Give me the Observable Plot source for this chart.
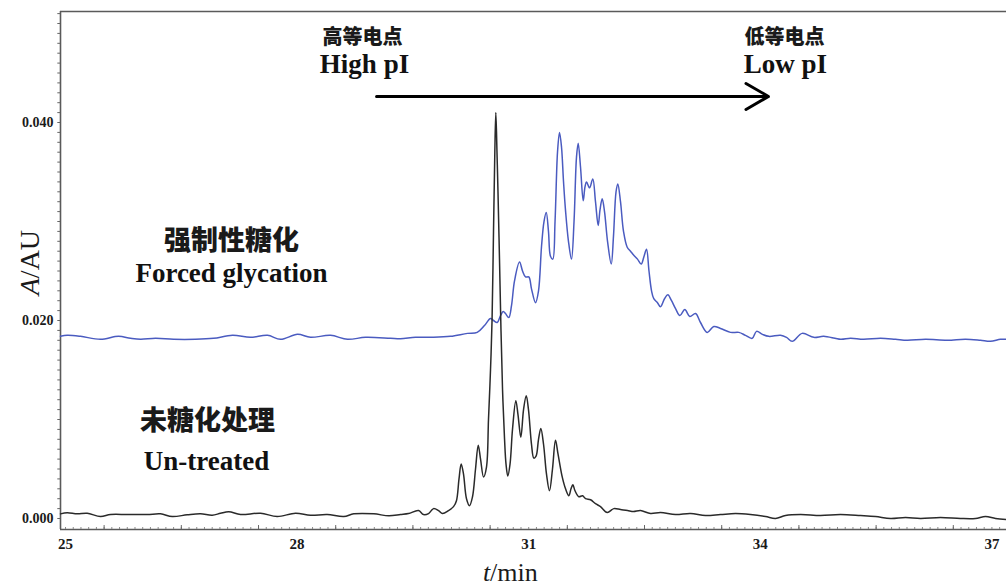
<!DOCTYPE html>
<html><head><meta charset="utf-8">
<script src="https://cdn.jsdelivr.net/npm/d3@7"></script>
<script src="https://cdn.jsdelivr.net/npm/@observablehq/plot@0.6"></script>
<style>html,body{margin:0;padding:0;background:#fff}</style>
</head><body><div id="chart"></div>
<script>
// ---- data (t in min, A in AU) ----
const timeUntreated = [
 24.935,25.022,25.152,25.281,25.453,25.583,25.799,26.058,26.231,26.382,
 26.576,26.749,26.900,27.008,27.115,27.267,27.526,27.742,27.979,28.173,
 28.390,28.605,28.734,28.993,29.188,29.339,29.443,29.573,29.637,29.702,
 29.767,29.832,29.883,29.961,30.026,30.064,30.097,30.125,30.155,30.194,
 30.233,30.272,30.311,30.346,30.376,30.415,30.453,30.479,30.505,30.525,
 30.544,30.561,30.574,30.589,30.602,30.622,30.641,30.661,30.687,30.706,
 30.729,30.758,30.790,30.833,30.861,30.898,30.933,30.968,30.997,31.036,
 31.066,31.095,31.127,31.157,31.192,31.230,31.269,31.308,31.347,31.380,
 31.434,31.477,31.520,31.548,31.572,31.600,31.649,31.697,31.736,31.801,
 31.865,31.930,32.017,32.102,32.189,32.280,32.358,32.448,32.578,32.707,
 32.902,33.096,33.290,33.484,33.679,33.873,34.067,34.197,34.326,34.521,
 34.780,35.039,35.298,35.492,35.687,35.881,36.075,36.334,36.593,36.787,
 36.917,37.047,37.189
];
const absUntreated = [
 0.00047,0.00058,0.00047,0.00053,0.00020,0.00040,0.00040,0.00040,0.00047,0.00020,
 0.00037,0.00047,0.00033,0.00053,0.00068,0.00040,0.00053,0.00020,0.00053,0.00033,
 0.00040,0.00020,0.00047,0.00047,0.00027,0.00040,0.00050,0.00080,0.00040,0.00050,
 0.00100,0.00080,0.00050,0.00080,0.00120,0.00180,0.00400,0.00550,0.00450,0.00200,
 0.00130,0.00220,0.00500,0.00740,0.00600,0.00420,0.00520,0.01000,0.01500,0.02000,
 0.02900,0.03700,0.04100,0.03700,0.03300,0.02600,0.01900,0.01300,0.00800,0.00550,
 0.00430,0.00550,0.00900,0.01190,0.01050,0.00820,0.01100,0.01240,0.01100,0.00750,
 0.00610,0.00630,0.00800,0.00910,0.00750,0.00450,0.00280,0.00500,0.00790,0.00650,
 0.00420,0.00300,0.00230,0.00300,0.00340,0.00280,0.00220,0.00230,0.00200,0.00190,
 0.00150,0.00120,0.00060,0.00100,0.00090,0.00080,0.00070,0.00080,0.00050,0.00060,
 0.00040,0.00050,0.00030,0.00040,0.00050,0.00040,0.00020,0.00000,0.00030,0.00040,
 0.00030,0.00040,0.00030,0.00020,0.00000,0.00010,0.00000,0.00010,0.00000,0.00000,
 0.00020,0.00000,-0.00010
];
const timeForced = [
 24.935,25.022,25.194,25.453,25.687,25.842,25.972,26.166,26.399,26.684,
 26.917,27.163,27.396,27.617,27.785,28.005,28.173,28.433,28.653,28.886,
 29.210,29.339,29.534,29.767,29.987,30.207,30.333,30.427,30.505,30.544,
 30.592,30.635,30.670,30.699,30.742,30.777,30.816,30.881,30.920,30.959,
 31.001,31.036,31.088,31.127,31.166,31.198,31.227,31.256,31.282,31.312,
 31.341,31.373,31.399,31.425,31.451,31.477,31.515,31.554,31.587,31.619,
 31.641,31.671,31.706,31.729,31.749,31.788,31.830,31.865,31.900,31.924,
 31.952,31.982,32.021,32.069,32.098,32.131,32.154,32.189,32.228,32.276,
 32.319,32.361,32.409,32.457,32.494,32.526,32.558,32.591,32.620,32.668,
 32.707,32.759,32.802,32.850,32.902,32.958,33.022,33.087,33.161,33.225,
 33.312,33.398,33.484,33.614,33.722,33.808,33.895,33.951,34.028,34.110,
 34.262,34.339,34.413,34.542,34.693,34.822,35.039,35.168,35.337,35.557,
 35.751,35.903,36.140,36.421,36.658,36.852,36.981,37.111,37.189
];
const absForced = [
 0.0184,0.0185,0.0184,0.0181,0.0184,0.0182,0.0181,0.0182,0.0181,0.0181,
 0.0182,0.0185,0.0183,0.0185,0.0181,0.0186,0.0183,0.0185,0.0181,0.0183,
 0.0182,0.01815,0.0183,0.0183,0.0184,0.0187,0.0188,0.0195,0.0202,0.0200,
 0.0198,0.0205,0.0209,0.0207,0.0203,0.0215,0.0240,0.0259,0.0250,0.0244,
 0.0244,0.0232,0.0218,0.0230,0.0275,0.0300,0.0309,0.0290,0.0265,0.0262,
 0.0300,0.0370,0.0390,0.0375,0.0340,0.0311,0.0280,0.0262,0.0300,0.0365,
 0.0379,0.0355,0.0321,0.0335,0.0340,0.0334,0.0343,0.0320,0.0296,0.0312,
 0.0323,0.0310,0.0280,0.0257,0.0285,0.0330,0.0338,0.0320,0.0290,0.0274,
 0.0270,0.0266,0.0262,0.0257,0.0265,0.0272,0.0250,0.0230,0.0222,0.0218,
 0.0214,0.0222,0.0226,0.0220,0.0212,0.0205,0.0211,0.0204,0.0207,0.0198,
 0.0188,0.0194,0.0192,0.0188,0.0188,0.0185,0.0182,0.0189,0.0186,0.0184,
 0.0185,0.0183,0.0179,0.0187,0.0183,0.0184,0.0181,0.0182,0.0181,0.0182,
 0.0181,0.0180,0.0181,0.0180,0.0181,0.0180,0.0179,0.0181,0.0181
];
const xTickLabels = [25, 28, 31, 34, 37];
const yTickLabels = [0.000, 0.020, 0.040];

// annotation texts (positions in data units)
const cjkTopLabels = ["高等电点", "低等电点"];
const cjkTopTime = [28.847, 34.313];
const cjkTopAbs = [0.04788, 0.04788];
const latinTopLabels = ["High pI", "Low pI"];
const latinTopTime = [28.873, 34.326];
const latinTopAbs = [0.04505, 0.04505];
const cjkSeriesLabels = ["强制性糖化", "未糖化处理"];
const cjkSeriesTime = [27.15, 26.839];
const cjkSeriesAbs = [0.02717, 0.00899];
const latinSeriesLabels = ["Forced glycation", "Un-treated"];
const latinSeriesTime = [27.15, 26.826];
const latinSeriesAbs = [0.02384, 0.00495];
const arrowTime = [29.029, 34.106];
const arrowAbs = 0.04263;

// ---- build ----
const untreated = timeUntreated.map((t, i) => ({t, a: absUntreated[i]}));
const forced = timeForced.map((t, i) => ({t, a: absForced[i]}));
const zip = (L, T, A) => L.map((s, i) => ({s, t: T[i], a: A[i]}));

const xDomain = [24.935, 37.189];
const yDomain = [-0.00111, 0.051212];
const serif = "'Liberation Serif','Times New Roman',serif";
const cjk = "'Noto Sans CJK SC','Noto Sans CJK JP',sans-serif";
const frameColor = "#5a5a5a";

const xMinor = d3.range(250, 373).map(d => d / 10);
const xMajor = d3.range(25.5, 37.2, 1);
const yMinor = d3.range(0, 52).map(d => d / 1000);

const chart = Plot.plot({
  width: 1006,
  height: 586,
  marginLeft: 60,
  marginRight: 0,
  marginTop: 11,
  marginBottom: 57,
  style: {fontFamily: serif, background: "#fff", color: "#1a1a1a"},
  x: {domain: xDomain},
  y: {domain: yDomain},
  marks: [
    // frame
    Plot.ruleY([yDomain[0]], {stroke: frameColor, strokeWidth: 1.6}),
    Plot.ruleY([yDomain[1]], {stroke: frameColor, strokeWidth: 1.6}),
    Plot.ruleX([xDomain[0]], {stroke: frameColor, strokeWidth: 1.6}),
    // ticks
    Plot.ruleX(xMinor, {x: d => d, y1: yDomain[0], y2: yDomain[0] + 0.0002, stroke: "#888", strokeWidth: 1}),
    Plot.ruleX(xMajor, {x: d => d, y1: yDomain[0], y2: yDomain[0] + 0.0004, stroke: "#666", strokeWidth: 1}),
    Plot.ruleY(yMinor, {y: d => d, x1: xDomain[0] - 0.035, x2: xDomain[0], stroke: "#666", strokeWidth: 1}),
    Plot.axisX({ticks: xTickLabels, tickSize: 0, tickPadding: 9, fontSize: 15, fontWeight: "bold", label: null}),
    Plot.axisY({ticks: yTickLabels, tickFormat: d3.format(".3f"), tickSize: 0, tickPadding: 7, fontSize: 14, fontWeight: "bold", label: null}),
    // series
    Plot.line(forced, {x: "t", y: "a", stroke: "#4a5bc0", strokeWidth: 1.5, curve: "catmull-rom"}),
    Plot.line(untreated, {x: "t", y: "a", stroke: "#2a2a2a", strokeWidth: 1.5, curve: "catmull-rom"}),
    // axis titles
    Plot.text(["t"], {x: 30.5, frameAnchor: "bottom", dy: 51, text: d => d, textAnchor: "end", lineAnchor: "bottom", fontSize: 26, fontStyle: "italic", fontFamily: serif}),
    Plot.text(["/min"], {x: 30.5, frameAnchor: "bottom", dy: 51, text: d => d, textAnchor: "start", lineAnchor: "bottom", fontSize: 26, fontFamily: serif}),
    Plot.text(["A"], {y: 0.02428, frameAnchor: "left", dx: -30, text: d => d, rotate: -90, textAnchor: "end", lineAnchor: "middle", fontSize: 28, fontStyle: "italic", fontFamily: serif}),
    Plot.text(["/AU"], {y: 0.02428, frameAnchor: "left", dx: -30, text: d => d, rotate: -90, textAnchor: "start", lineAnchor: "middle", fontSize: 28, fontFamily: serif}),
    // annotations
    Plot.text(zip(cjkTopLabels, cjkTopTime, cjkTopAbs), {x: "t", y: "a", text: "s", lineAnchor: "bottom", fontSize: 20, fontWeight: 900, fontFamily: cjk, fill: "#1a1a1a"}),
    Plot.text(zip(latinTopLabels, latinTopTime, latinTopAbs), {x: "t", y: "a", text: "s", lineAnchor: "bottom", fontSize: 27, fontWeight: "bold", fontFamily: serif, fill: "#111"}),
    Plot.text(zip(cjkSeriesLabels, cjkSeriesTime, cjkSeriesAbs), {x: "t", y: "a", text: "s", lineAnchor: "bottom", fontSize: 27, fontWeight: 900, fontFamily: cjk, fill: "#1a1a1a"}),
    Plot.text(zip(latinSeriesLabels, latinSeriesTime, latinSeriesAbs), {x: "t", y: "a", text: "s", lineAnchor: "bottom", fontSize: 27, fontWeight: "bold", fontFamily: serif, fill: "#111"}),
    Plot.arrow([0], {x1: arrowTime[0], x2: arrowTime[1], y1: arrowAbs, y2: arrowAbs, stroke: "#000", strokeWidth: 3, headLength: 13, headAngle: 60, bend: 0})
  ]
});
document.getElementById("chart").appendChild(chart);
</script>
</body></html>
